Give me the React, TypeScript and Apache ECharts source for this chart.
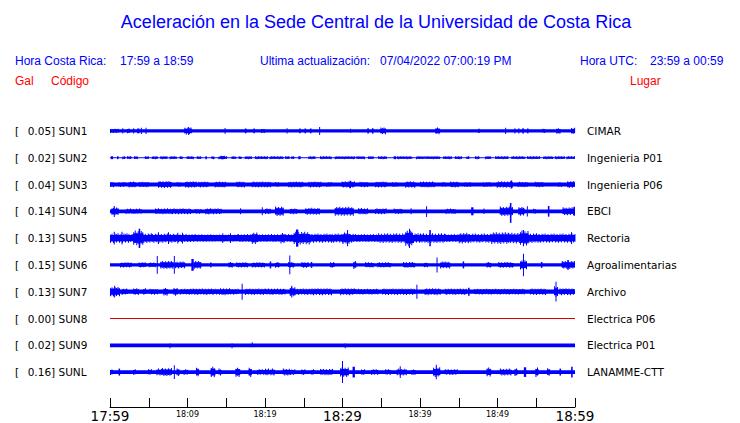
import React, { useEffect, useRef } from 'react';
import * as echarts from 'echarts';

// ---- Data ----
const CODES = ['SUN1', 'SUN2', 'SUN3', 'SUN4', 'SUN5', 'SUN6', 'SUN7', 'SUN8', 'SUN9', 'SUNL'];
const PEAKS = ['0.05', '0.02', '0.04', '0.14', '0.13', '0.15', '0.13', '0.00', '0.02', '0.16'];
const PLACES = ['CIMAR', 'Ingenieria P01', 'Ingenieria P06', 'EBCI', 'Rectoria', 'Agroalimentarias', 'Archivo', 'Electrica P06', 'Electrica P01', 'LANAMME-CTT'];
// minutes after 17:59, every 5 min
const TIME_LABELS = ['17:59', '', '18:09', '', '18:19', '', '18:29', '', '18:39', '', '18:49', '', '18:59'];
const MAJOR_LABELS = ['17:59', '18:29', '18:59'];
// background noise amplitude of every trace (percent of trace spacing)
const BASE = [6, 2, 7, 7, 12, 6, 8, 0, 7, 7];

// bursts: [start minute, end minute, amplitude up, amplitude down?]
const sun1 = [
  [0, 1.2, 8], [1.6, 1.7, 10], [2.2, 2.6, 9], [3, 3.1, 10], [3.5, 3.8, 9], [4, 4.1, 12], [4.6, 4.7, 12],
  [9.6, 10.6, 13], [10.1, 10.2, 15], [14.8, 14.9, 11], [17.4, 17.6, 9], [18.5, 18.7, 9], [19.5, 20, 8],
  [22.8, 22.9, 10], [24.4, 24.6, 9], [25.1, 25.3, 9], [25.8, 26, 9], [27, 27.1, 15], [31, 31.1, 8],
  [33.2, 33.4, 10], [33.8, 34, 10], [34.9, 35.6, 13], [42, 42.6, 13], [47.5, 47.7, 8], [51, 51.1, 12],
  [52.2, 52.3, 10], [52.7, 52.8, 10], [53.2, 53.4, 10], [53.8, 54, 9], [55.8, 56.2, 8], [57.6, 58.1, 11],
  [59.5, 60, 12],
];
const sun2 = [
  [0.1, 0.4, 5.5], [0.9, 1.1, 5.5], [1.6, 2, 5.5], [2.2, 2.8, 5.5], [3.1, 3.6, 5.5], [4.5, 5, 5.5],
  [5.4, 6.2, 5.5], [6.5, 7.4, 5.5], [7.7, 8.6, 5.5], [9, 9.4, 5.5], [9.9, 10.8, 5.5], [11.2, 11.8, 5.5],
  [12.3, 12.5, 5.5], [13.1, 13.5, 5.5], [14, 15.1, 5.5], [14.3, 14.8, 7.5], [15.7, 16.3, 5.5], [16.6, 17, 5.5],
  [17.4, 18.3, 5.5], [18.7, 20.4, 5.5], [20.6, 22.4, 5.5], [22.6, 23.2, 5.5], [23.4, 23.8, 5.5],
  [24.3, 24.6, 5.5], [25.6, 26.5, 5.5], [27.1, 28.6, 5.5], [29, 31.6, 5.5], [31.8, 32.9, 5.5],
  [33.3, 34, 5.5], [34.6, 35.7, 5.5], [36.6, 36.9, 5.5], [37, 39, 5.5], [39.5, 40.6, 5.5],
  [40.7, 42.6, 5.5], [43, 44.1, 5.5], [44.5, 45.4, 5.5], [46, 46.4, 5.5], [47.1, 47.7, 5.5],
  [48.4, 49.2, 5.5], [49.7, 51.4, 5.5], [51.8, 53.6, 5.5], [53.8, 55.5, 5.5], [55.9, 57.2, 5.5],
  [57.4, 58.7, 5.5], [58.9, 60, 5.5],
];
const sun3 = [
  [0, 0.6, 10], [1.1, 2, 9], [2.4, 3.4, 11], [3.7, 5.1, 10], [6.2, 8, 13], [8.6, 9.2, 9], [9.7, 11.2, 12],
  [11.4, 12.7, 11], [13.5, 15, 11], [16.3, 17.4, 11], [18.3, 20.8, 11], [21.3, 21.9, 9], [23, 25, 11],
  [25.6, 27.3, 11], [27.9, 28.6, 9], [29.9, 31.6, 12], [30.9, 31.1, 14], [32.2, 33.3, 10], [34.2, 35.7, 11],
  [36.4, 37.2, 9], [38.1, 39.4, 12], [40, 42, 11], [42.8, 43.4, 9], [43.9, 45, 11], [45.7, 46.7, 9],
  [48.1, 49.2, 9], [49.9, 52, 12], [51.7, 51.9, 15], [52.6, 53.9, 10], [54.8, 56, 10], [57.8, 58.4, 9],
  [59, 60, 13],
];
const sun4 = [
  [0.2, 1.1, 15], [0.5, 0.6, 20, 21], [2, 4.1, 10], [5.8, 8, 11], [8, 10.5, 11], [10.9, 11.8, 9],
  [12.3, 13.1, 12], [13.1, 14.4, 11], [16.8, 16.9, 11], [19.6, 19.7, 15], [20, 20.8, 11], [21.3, 22.4, 18],
  [23.2, 24.2, 11], [25.2, 27.1, 13], [29, 31.4, 17], [32, 33.3, 12], [34.2, 35.7, 11], [36.6, 37.8, 10],
  [38.8, 38.9, 11], [40.8, 40.9, 19, 21], [43.3, 44.6, 10], [46.6, 46.9, 15], [48.2, 48.3, 10],
  [50.3, 52, 18], [51.6, 51.8, 31, 43], [52.7, 53.5, 17], [53.8, 53.9, 19], [54.6, 55, 10],
  [56.5, 56.7, 20], [58.4, 60, 15], [59.8, 60, 17],
];
const sun5 = [
  [0, 2.4, 18], [0.5, 0.6, 24], [1.5, 1.6, 24], [2.4, 3, 15], [3, 4.3, 28], [3.7, 3.9, 35, 37], [4.3, 5.4, 18],
  [5.4, 8.4, 17], [6.2, 6.3, 22], [7.5, 7.6, 22], [8.4, 11, 15], [8.7, 8.8, 20], [9.3, 9.4, 20],
  [11, 13.5, 14], [13.5, 16.5, 13], [14.5, 14.6, 18], [15.5, 15.6, 18], [16.5, 20, 15], [18.3, 19.1, 22],
  [20, 22, 15], [22, 22.6, 20], [22.6, 23.7, 15], [23.7, 25.8, 24], [24, 24.3, 32], [25.8, 28.6, 17],
  [28.6, 31.4, 17], [30, 31, 22], [30.6, 30.7, 30], [31.4, 34.6, 15], [34.6, 38, 18], [38.1, 39.1, 30],
  [38.6, 38.7, 35, 37], [39.1, 40, 18], [40, 43.2, 18], [41.2, 41.4, 30], [43.2, 45, 15], [45, 46.3, 20],
  [46.3, 49.2, 17], [49.2, 51.4, 22], [51.4, 53, 20], [52.9, 54, 28], [53.3, 53.4, 30], [54, 55.3, 18],
  [55.3, 57.8, 17], [57.8, 60, 17], [59.5, 59.6, 22],
];
const sun6 = [
  [1.3, 2.8, 10], [3.7, 4.7, 10], [5, 5.9, 9], [6.05, 6.15, 33], [6.5, 8.2, 15], [8.25, 8.35, 33],
  [8.4, 9.7, 13], [10.5, 10.8, 22], [10.8, 11.8, 15], [12.9, 13.1, 9], [15.3, 15.9, 11], [16.3, 17.8, 10],
  [18.3, 20, 10], [20.6, 20.8, 13], [21.3, 21.9, 11], [23, 23.8, 11], [23.15, 23.25, 35], [24.7, 25.6, 11],
  [25.9, 26.1, 11], [28.4, 29, 11], [31.4, 31.8, 15], [32.9, 34, 10], [34.5, 36.3, 10], [37.8, 39.4, 11],
  [40.5, 41, 9], [42.15, 42.25, 28], [42.6, 43.9, 13], [45.5, 45.7, 13], [48.6, 49.2, 11], [50.1, 52.1, 11],
  [52.9, 53.8, 18], [53.3, 53.4, 42], [55.6, 55.8, 11], [58.3, 60, 15], [59, 59.2, 18],
];
const sun7 = [
  [0, 1.3, 18], [0.55, 0.65, 22], [1.5, 2.3, 12], [3, 3.7, 13], [4.3, 4.7, 13], [5.1, 6.2, 11],
  [6.9, 7.5, 15], [8.2, 8.8, 15], [9, 10.3, 11], [10.3, 13.3, 12], [13.3, 14.2, 11], [14.2, 15.5, 13],
  [15.5, 16.6, 11], [17, 17.1, 30], [17.4, 20, 12], [20, 22.6, 12], [23.2, 23.9, 18], [23.4, 23.5, 22],
  [23.9, 26, 12], [26, 28.6, 13], [29.7, 31.6, 13], [31.6, 34.6, 11], [35.1, 39.4, 12], [39.55, 39.65, 26],
  [40.6, 42.6, 13], [43.2, 46, 12], [46.2, 46.4, 15], [47, 53.5, 11], [54.2, 56.3, 12], [57.3, 57.8, 20],
  [57.5, 57.6, 37], [58, 60, 13],
];
const sun8: number[][] = [];
const sun9 = [
  [7.7, 7.8, 7, 11], [15.7, 15.8, 7, 11], [18.3, 18.4, 11, 7], [30.3, 30.4, 7, 11],
];
const sunl = [
  [0, 0.4, 11], [1.1, 1.3, 13], [3, 3.4, 11], [4.9, 5.4, 11], [6, 6.7, 13], [6.7, 8, 15], [8.25, 8.35, 26],
  [8.6, 9, 15], [9.5, 10.1, 11], [11.1, 11.5, 17], [13, 13.6, 20], [14, 14.4, 13], [16.2, 16.8, 18],
  [17.9, 18.3, 18], [19, 20, 11], [20, 20.6, 13], [20.7, 21.3, 13], [22.3, 23.2, 13], [23.2, 23.9, 11],
  [24.7, 25.2, 11], [26, 26.4, 11], [27.1, 28.8, 12], [29.7, 30.8, 18], [29.95, 30.05, 41], [31.3, 31.6, 20],
  [32.4, 32.9, 11], [33.7, 34.6, 11], [35.5, 36.3, 11], [37, 38.3, 13], [37.4, 37.5, 22], [38.9, 39.4, 11],
  [41.7, 42.6, 18], [42.05, 42.15, 27], [43.2, 44.9, 11], [48.6, 49.2, 17], [50.3, 51.8, 13],
  [52.2, 52.6, 15], [53.4, 53.7, 18], [54.9, 55.3, 18], [56.4, 56.8, 15], [58, 58.2, 13], [59.5, 59.7, 20],
];
const BURSTS = [sun1, sun2, sun3, sun4, sun5, sun6, sun7, sun8, sun9, sunl];
const DEAD_TRACE = 7;

const BLUE = '#0000ff';
const RED = '#ff0000';
const MONO = '"DejaVu Sans", Verdana, sans-serif';
const SANS = '"Liberation Sans", Arial, sans-serif';
// jagged texture inside wide bursts (purely visual)
const COMB = [1, 0.72, 0.9, 0.65, 0.95, 0.78];

function renderTrace(params: any, api: any) {
  const s = api.value(0);
  const e = api.value(1);
  const row = api.value(2);
  const up = api.value(3) / 100;
  const dn = api.value(4) / 100;
  const band = api.size([0, 1])[1];
  const c1 = api.coord([s, row]);
  const c2 = api.coord([e, row]);
  let x = Math.min(c1[0], c2[0]);
  let w = Math.abs(c2[0] - c1[0]);
  if (w < 1) {
    x = x + w / 2 - 0.5;
    w = 1;
  }
  const cy = c1[1];
  if (params.dataIndex === 0 || w < 3) {
    return { type: 'rect', shape: { x, y: cy - up * band, width: w, height: (up + dn) * band }, style: { fill: BLUE } };
  }
  const children: any[] = [];
  const core = 0.62;
  children.push({ type: 'rect', shape: { x, y: cy - up * band * core, width: w, height: (up + dn) * band * core }, style: { fill: BLUE } });
  let k = 0;
  for (let px = x; px < x + w - 0.5; px += 1.5) {
    const f = COMB[(k + params.dataIndex) % COMB.length];
    const f2 = COMB[(k + params.dataIndex + 3) % COMB.length];
    children.push({
      type: 'rect',
      shape: { x: px, y: cy - up * band * f, width: 1, height: up * band * f + dn * band * f2 },
      style: { fill: BLUE },
    });
    k++;
  }
  return { type: 'group', children };
}

export default function App() {
  const ref = useRef<HTMLDivElement>(null);
  useEffect(() => {
    if (!ref.current) return;
    const chart = echarts.init(ref.current, null, { renderer: 'svg' });

    const series: any[] = [];
    CODES.forEach((code, i) => {
      if (i === DEAD_TRACE) {
        series.push({
          type: 'line',
          name: code,
          data: [[0, i], [60, i]],
          symbol: 'none',
          silent: true,
          lineStyle: { color: '#dd0000', width: 1 },
        });
        return;
      }
      const data: number[][] = [[0, 60, i, BASE[i], BASE[i]]];
      BURSTS[i].forEach((b) => data.push([b[0], b[1], i, b[2], b.length > 3 ? b[3] : b[2]]));
      series.push({
        type: 'custom',
        name: code,
        renderItem: renderTrace,
        data,
        encode: { x: [0, 1], y: 2 },
        silent: true,
        clip: false,
      });
    });

    const option: any = {
      animation: false,
      backgroundColor: '#ffffff',
      grid: { left: 110, right: 165, top: 117.5, bottom: 35.5 },
      xAxis: {
        type: 'value',
        min: 0,
        max: 60,
        interval: 5,
        offset: 21.5,
        splitLine: { show: false },
        axisLine: { show: true, lineStyle: { color: '#000', width: 1 } },
        axisTick: { show: true, inside: true, length: 9, lineStyle: { color: '#000', width: 1 } },
        axisLabel: {
          margin: 2,
          showMinLabel: true,
          showMaxLabel: true,
          hideOverlap: false,
          formatter: (v: number) => {
            const t = TIME_LABELS[Math.round(v / 5)] || '';
            if (!t) return '';
            return MAJOR_LABELS.includes(t) ? `{big|${t}}` : `{small|${t}}`;
          },
          rich: {
            big: { fontFamily: MONO, fontSize: 13.5, color: '#000', lineHeight: 14 },
            small: { fontFamily: MONO, fontSize: 8, color: '#000', lineHeight: 10 },
          },
        },
      },
      yAxis: [
        {
          type: 'category',
          data: CODES,
          inverse: true,
          position: 'left',
          axisLine: { show: false },
          axisTick: { show: false },
          splitLine: { show: false },
          axisLabel: {
            align: 'left',
            margin: 95,
            formatter: (v: string, idx: number) => `{a|[}{b|${PEAKS[idx]}] ${v}}`,
            rich: {
              a: { fontFamily: MONO, fontSize: 10.5, color: '#000', width: 12.7 },
              b: { fontFamily: MONO, fontSize: 10.5, color: '#000' },
            },
          },
        },
        {
          type: 'category',
          data: PLACES,
          inverse: true,
          position: 'right',
          axisLine: { show: false },
          axisTick: { show: false },
          splitLine: { show: false },
          axisLabel: { align: 'left', margin: 12, fontFamily: MONO, fontSize: 10.5, color: '#000' },
        },
      ],
      graphic: [
        { type: 'text', x: 376, y: 22, style: { text: 'Aceleración en la Sede Central de la Universidad de Costa Rica', fill: BLUE, font: `18px ${SANS}`, align: 'center', verticalAlign: 'middle' } },
        { type: 'text', x: 15, y: 61, style: { text: 'Hora Costa Rica:', fill: BLUE, font: `12px ${SANS}`, verticalAlign: 'middle' } },
        { type: 'text', x: 120, y: 61, style: { text: '17:59 a 18:59', fill: BLUE, font: `12px ${SANS}`, verticalAlign: 'middle' } },
        { type: 'text', x: 260, y: 61, style: { text: 'Ultima actualización:', fill: BLUE, font: `12px ${SANS}`, verticalAlign: 'middle' } },
        { type: 'text', x: 380, y: 61, style: { text: '07/04/2022 07:00:19 PM', fill: BLUE, font: `12px ${SANS}`, verticalAlign: 'middle' } },
        { type: 'text', x: 580, y: 61, style: { text: 'Hora UTC:', fill: BLUE, font: `12px ${SANS}`, verticalAlign: 'middle' } },
        { type: 'text', x: 650, y: 61, style: { text: '23:59 a 00:59', fill: BLUE, font: `12px ${SANS}`, verticalAlign: 'middle' } },
        { type: 'text', x: 15, y: 81, style: { text: 'Gal', fill: RED, font: `12px ${SANS}`, verticalAlign: 'middle' } },
        { type: 'text', x: 51, y: 81, style: { text: 'Código', fill: RED, font: `12px ${SANS}`, verticalAlign: 'middle' } },
        { type: 'text', x: 630, y: 81, style: { text: 'Lugar', fill: RED, font: `12px ${SANS}`, verticalAlign: 'middle' } },
      ],
      series,
    };
    chart.setOption(option);
    return () => chart.dispose();
  }, []);

  return (
    <div
      ref={ref}
      style={{ position: 'fixed', left: 0, top: 0, width: 740, height: 423, background: '#fff' }}
    />
  );
}
